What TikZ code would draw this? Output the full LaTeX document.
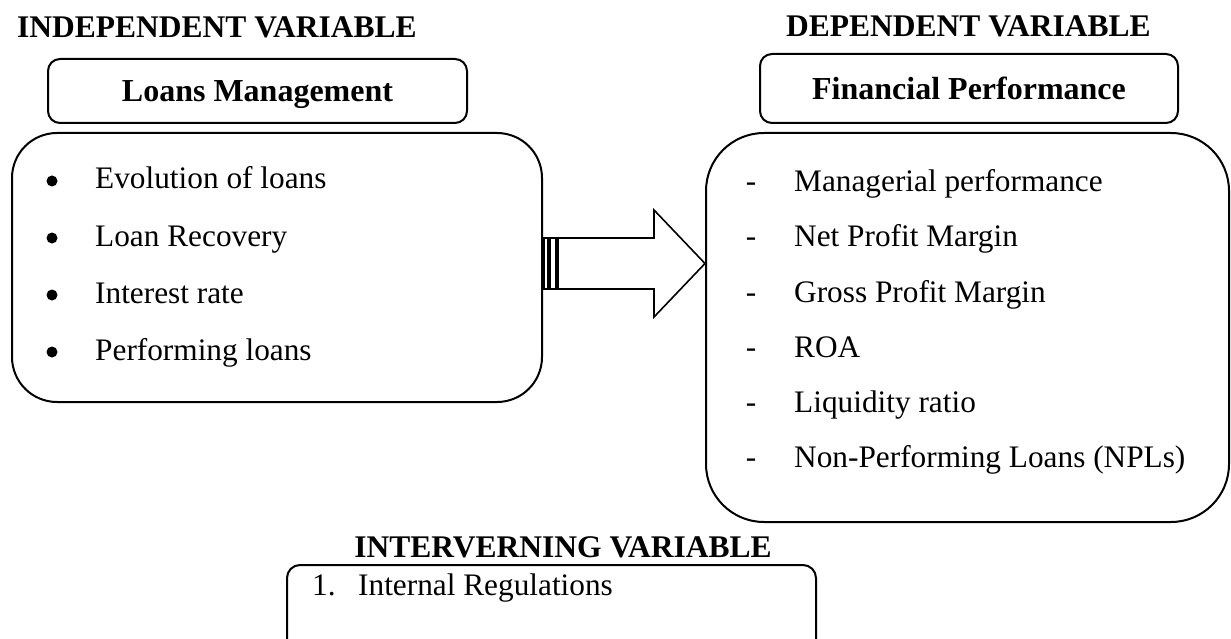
\documentclass[tikz,border=0pt]{standalone}
\usepackage{fontspec}
\setmainfont{Liberation Serif}
\usetikzlibrary{calc}
\begin{document}
\begin{tikzpicture}[x=1pt,y=-1pt,
  hdr/.style={font=\fontsize{31.5}{36}\selectfont\bfseries, inner sep=0pt},
  item/.style={font=\fontsize{31.3}{36}\selectfont, inner sep=0pt, anchor=base west},
  dashmark/.style={font=\fontsize{31.3}{36}\selectfont, inner sep=0pt, anchor=base},
  bigbox/.style={draw, line width=2pt, rounded corners=#1},
  labbox/.style={draw, line width=2pt, rounded corners=12pt,
    font=\fontsize{32}{36}\selectfont\bfseries, text height=22pt, text depth=0pt, inner sep=0pt},
  bul/.style={circle, fill, inner sep=0pt, minimum size=11pt},
  blockarrow/.style={draw, line width=1.6pt, fill=white, line join=miter}
]
\useasboundingbox (0,0) rectangle (1231,639);

% headings
\node[hdr, anchor=base west] (hIndep) at (17,38) {INDEPENDENT VARIABLE};
\node[hdr, anchor=base west] (hDep) at (786,37) {DEPENDENT VARIABLE};
\node[hdr, anchor=base east] (hInter) at (772,557) {INTERVERNING VARIABLE};

% label boxes
\node[labbox, minimum width=419pt, minimum height=64pt] (lm) at (257.5,91) {Loans Management};
\node[labbox, minimum width=418pt, minimum height=69pt] (fp) at (969,88.5) {Financial Performance};

% big boxes
\node[bigbox=45pt, minimum width=530pt, minimum height=269pt] (lbox) at (277,267.5) {};
\node[bigbox=58pt, minimum width=523pt, minimum height=389pt] (rbox) at (967.5,327.5) {};

% bottom box (cut by the page edge)
\begin{scope}
\clip (0,0) rectangle (1231,639);
\node[bigbox=13pt, minimum width=529pt, minimum height=110pt] (ibox) at (551.5,620) {};
\end{scope}

% left items
\node[bul] (b1) at (52,181) {};
\node[item] (l1) at (95,189) {Evolution of loans};
\node[bul] (b2) at (52,238) {};
\node[item] (l2) at (95,246) {Loan Recovery};
\node[bul] (b3) at (52,295) {};
\node[item] (l3) at (95,303) {Interest rate};
\node[bul] (b4) at (52,352) {};
\node[item] (l4) at (95,360) {Performing loans};

% right items
\node[dashmark] (d1) at (751,192) {-};
\node[item] (r1) at (794,192) {Managerial performance};
\node[dashmark] (d2) at (751,247) {-};
\node[item] (r2) at (794,247) {Net Profit Margin};
\node[dashmark] (d3) at (751,302) {-};
\node[item] (r3) at (794,302) {Gross Profit Margin};
\node[dashmark] (d4) at (751,357) {-};
\node[item] (r4) at (794,357) {ROA};
\node[dashmark] (d5) at (751,412) {-};
\node[item] (r5) at (794,412) {Liquidity ratio};
\node[dashmark] (d6) at (751,467) {-};
\node[item] (r6) at (794,467) {Non-Performing Loans (NPLs)};

% intervening item
\node[item] (n1) at (312,595) {1.};
\node[item] (ireg) at (358,595) {Internal Regulations};

% striped block arrow from lbox to rbox
\coordinate (atail) at (lbox.east |- 0,263.5);
\coordinate (atip) at (rbox.west |- atail);
\draw[blockarrow] ($(atail)+(1,-25.5)$) rectangle ($(atail)+(5,25.5)$);
\draw[blockarrow] ($(atail)+(7,-25.5)$) rectangle ($(atail)+(13,25.5)$);
\draw[blockarrow] ($(atail)+(15,-25.5)$) -- ($(atip)+(-51,-25.5)$) -- ($(atip)+(-51,-53.5)$)
  -- (atip) -- ($(atip)+(-51,53.5)$) -- ($(atip)+(-51,25.5)$) -- ($(atail)+(15,25.5)$) -- cycle;
\end{tikzpicture}
\end{document}
